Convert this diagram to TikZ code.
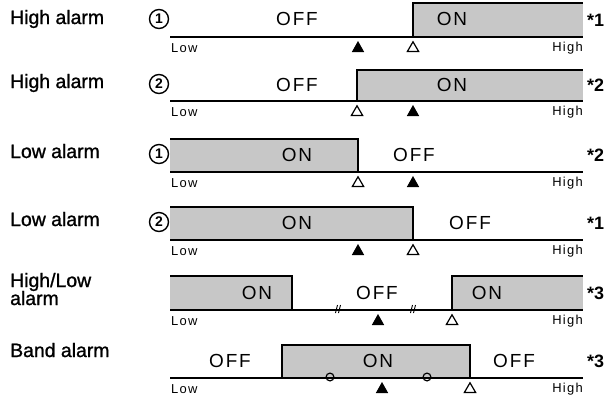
\documentclass[tikz,border=0pt]{standalone}
\usepackage{fontspec}
\setmainfont{Liberation Sans}
\newfontfamily\spacedfont[LetterSpace=10]{Liberation Sans}
\newfontfamily\smallspaced[LetterSpace=10]{Liberation Sans}
\newfontfamily\medfont[FakeBold=1.2]{Liberation Sans}
\begin{document}
\begin{tikzpicture}[x=1bp,y=-1bp,
  rowlbl/.style={anchor=base west, inner sep=0, font=\medfont\fontsize{19.5}{21}\selectfont},
  state/.style={inner sep=0, font=\spacedfont\fontsize{19}{21}\selectfont},
  lowlbl/.style={anchor=west, inner sep=0, font=\smallspaced\fontsize{13}{14}\selectfont},
  highlbl/.style={anchor=east, inner sep=0, font=\smallspaced\fontsize{13}{14}\selectfont},
  note/.style={anchor=west, inner sep=0, font=\bfseries\fontsize{18}{20}\selectfont},
  cnum/.style={circle, draw, line width=1.4bp, inner sep=0, minimum size=19bp, font=\bfseries\fontsize{14}{15}\selectfont},
  onfill/.style={fill=black!22},
  boxedge/.style={line width=1.7bp, line join=miter},
  baseln/.style={line width=2bp},
  filltri/.pic={\fill (-6.2,15) -- (0,4) -- (6.2,15) -- cycle;},
  opentri/.pic={\draw[line width=1.2bp, line join=miter] (-5.6,14.4) -- (0,4.8) -- (5.6,14.4) -- cycle;},
  ring/.pic={\draw[line width=1.2bp] (0,-1) circle (3.9);},
  brk/.pic={\draw[line width=0.9bp] (-2.5,3) -- (-0.5,-5) (0.5,3) -- (2.5,-5);}
]
\useasboundingbox (0,0) rectangle (610,396);

% ---------- Row 1: High alarm 1 (b=37)
\node[rowlbl] (l1) at (10,24) {High alarm};
\node[cnum] (c1) at (159,19) {1};
\fill[onfill] (413,3) rectangle (583,37);
\draw[boxedge] (413,37) -- (413,3) -- (583,3);
\draw[baseln] (170,37) -- (583,37);
\node[state] (s1a) at (297,19) {OFF};
\node[state] (s1b) at (452,19) {ON};
\node[lowlbl] (lo1) at (171,48) {Low};
\node[highlbl] (hi1) at (583,48) {High};
\path (358,37) pic {filltri};
\path (413,37) pic {opentri};
\node[note] (n1) at (587,20) {*1};

% ---------- Row 2: High alarm 2 (b=101)
\node[rowlbl] (l2) at (10,88) {High alarm};
\node[cnum] (c2) at (159,84) {2};
\fill[onfill] (357,70) rectangle (583,101);
\draw[boxedge] (357,101) -- (357,70) -- (583,70);
\draw[baseln] (170,101) -- (583,101);
\node[state] (s2a) at (297,85) {OFF};
\node[state] (s2b) at (452,85) {ON};
\node[lowlbl] (lo2) at (171,112) {Low};
\node[highlbl] (hi2) at (583,112) {High};
\path (357,101) pic {opentri};
\path (413,101) pic {filltri};
\node[note] (n2) at (587,85) {*2};

% ---------- Row 3: Low alarm 1 (b=172)
\node[rowlbl] (l3) at (10,158) {Low alarm};
\node[cnum] (c3) at (159,154) {1};
\fill[onfill] (170,139) rectangle (358,172);
\draw[boxedge] (170,139) -- (358,139) -- (358,172);
\draw[baseln] (170,172) -- (583,172);
\node[state] (s3a) at (297,155) {ON};
\node[state] (s3b) at (414,155) {OFF};
\node[lowlbl] (lo3) at (171,183) {Low};
\node[highlbl] (hi3) at (583,183) {High};
\path (358,172) pic {opentri};
\path (413,172) pic {filltri};
\node[note] (n3) at (587,155) {*2};

% ---------- Row 4: Low alarm 2 (b=240)
\node[rowlbl] (l4) at (10,226) {Low alarm};
\node[cnum] (c4) at (159,222) {2};
\fill[onfill] (170,207) rectangle (413,240);
\draw[boxedge] (170,207) -- (413,207) -- (413,240);
\draw[baseln] (170,240) -- (583,240);
\node[state] (s4a) at (297,223) {ON};
\node[state] (s4b) at (470,223) {OFF};
\node[lowlbl] (lo4) at (171,251) {Low};
\node[highlbl] (hi4) at (583,251) {High};
\path (358,240) pic {filltri};
\path (413,240) pic {opentri};
\node[note] (n4) at (587,223) {*1};

% ---------- Row 5: High/Low alarm (b=310)
\node[rowlbl] (l5a) at (10,287) {High/Low};
\node[rowlbl] (l5b) at (10,305) {alarm};
\fill[onfill] (170,276) rectangle (292,310);
\draw[boxedge] (170,276) -- (292,276) -- (292,310);
\fill[onfill] (452,276) rectangle (583,310);
\draw[boxedge] (452,310) -- (452,276) -- (583,276);
\draw[baseln] (170,310) -- (583,310);
\node[state] (s5a) at (257,293) {ON};
\node[state] (s5b) at (377,293) {OFF};
\node[state] (s5c) at (487,293) {ON};
\path (338,310) pic {brk};
\path (413,310) pic {brk};
\node[lowlbl] (lo5) at (171,321) {Low};
\node[highlbl] (hi5) at (583,321) {High};
\path (378,310) pic {filltri};
\path (452,310) pic {opentri};
\node[note] (n5) at (587,293) {*3};

% ---------- Row 6: Band alarm (b=378)
\node[rowlbl] (l6) at (10,357) {Band alarm};
\fill[onfill] (282,345) rectangle (470,378);
\draw[boxedge] (282,378) -- (282,345) -- (470,345) -- (470,378);
\draw[baseln] (170,378) -- (583,378);
\node[state] (s6a) at (230,361) {OFF};
\node[state] (s6b) at (378,361) {ON};
\node[state] (s6c) at (514,361) {OFF};
\path (330,378) pic {ring};
\path (427,378) pic {ring};
\node[lowlbl] (lo6) at (171,389) {Low};
\node[highlbl] (hi6) at (583,389) {High};
\path (382,378) pic {filltri};
\path (470,378) pic {opentri};
\node[note] (n6) at (587,361) {*3};
\end{tikzpicture}
\end{document}
